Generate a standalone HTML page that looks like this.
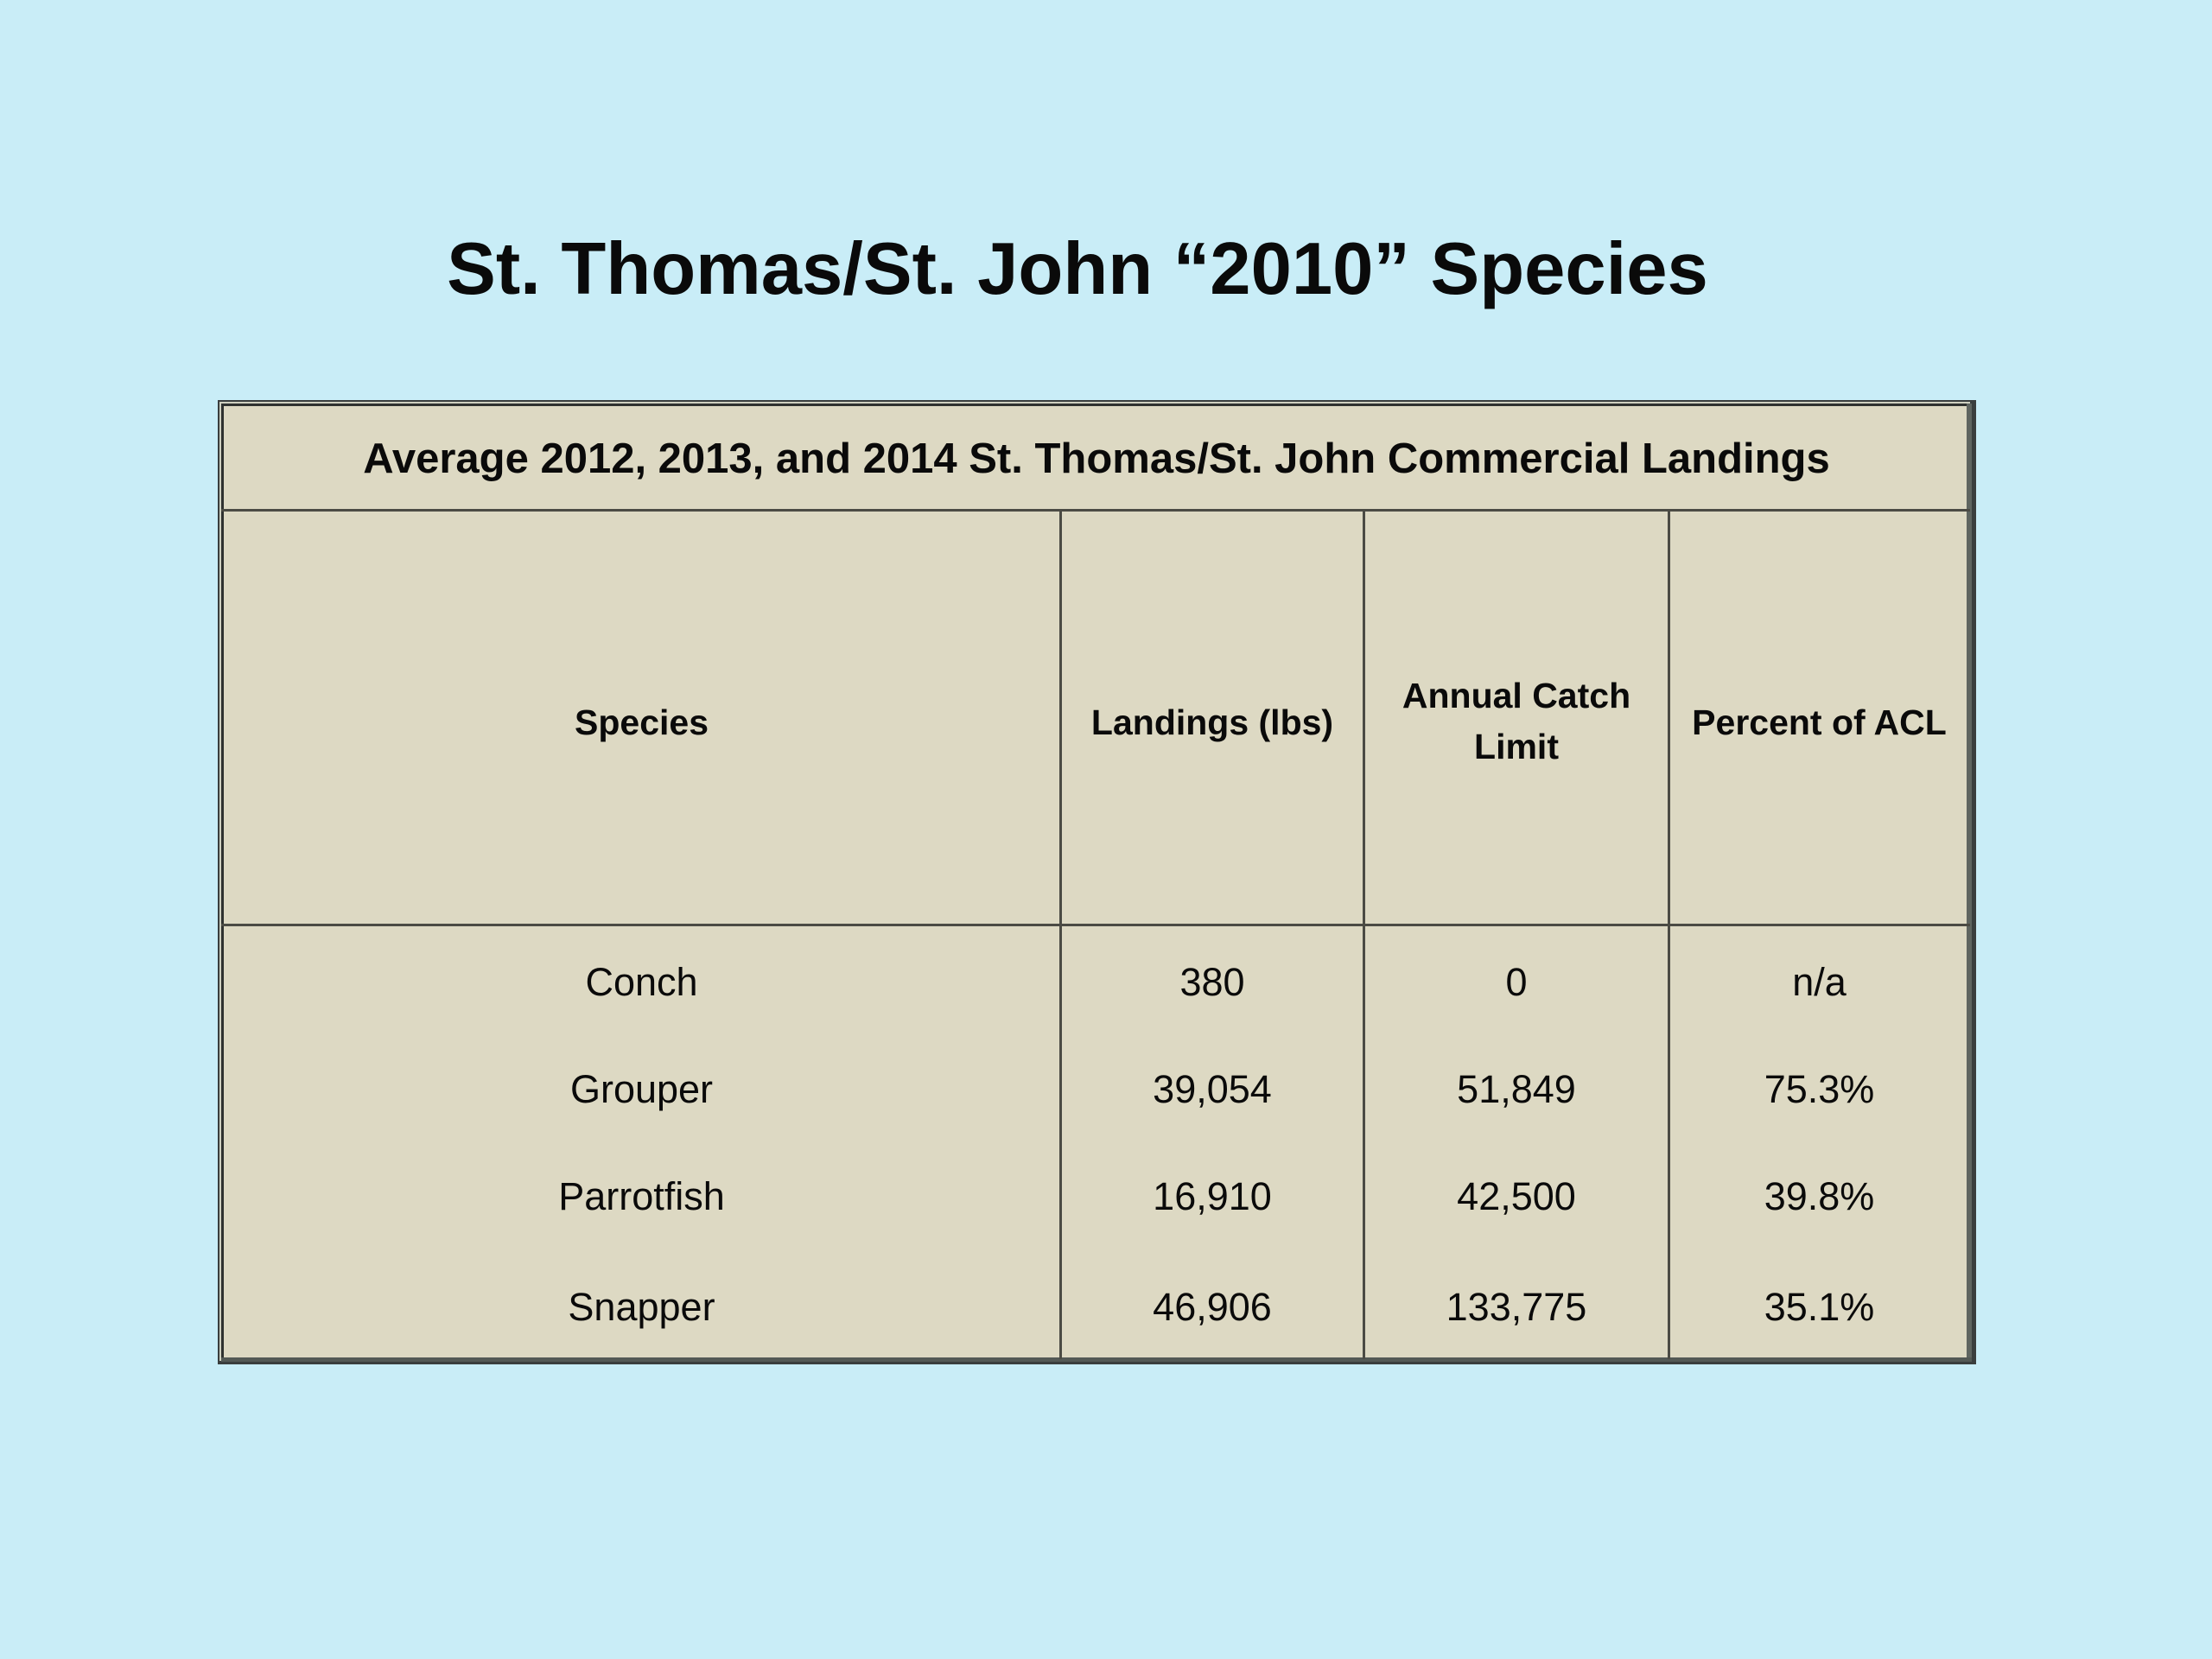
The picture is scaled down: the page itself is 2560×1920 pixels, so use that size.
<!DOCTYPE html>
<html><head><meta charset="utf-8">
<style>
html,body{margin:0;padding:0;}
body{width:2560px;height:1920px;background:#c9edf7;position:relative;overflow:hidden;font-family:"Liberation Sans",Arial,sans-serif;color:#0a0a0a;}
.t{position:absolute;white-space:nowrap;line-height:1;text-align:center;}
.ln{position:absolute;background:#4b4b44;}
</style></head><body>
<div class="t" style="left:0;width:2494px;top:269px;font-size:85px;font-weight:bold;">St. Thomas/St. John “2010” Species</div>

<div style="position:absolute;left:252px;top:463px;width:2035px;height:1116px;background:#3a3e3e;"></div>
<div style="position:absolute;left:254px;top:465px;width:2026px;height:1110px;background:#cfd0c0;"></div>
<div style="position:absolute;left:256px;top:467px;width:2022px;height:1105px;background:#2f3230;"></div>
<div style="position:absolute;left:259px;top:470px;width:2017px;height:1101px;background:#ddd9c3;"></div>
<div style="position:absolute;left:2276px;top:467px;width:6px;height:1108px;background:#5f6560;"></div>
<div style="position:absolute;left:256px;top:1571px;width:2026px;height:5px;background:#535955;"></div>

<div class="ln" style="left:256px;top:589px;width:2024px;height:3px;"></div>
<div class="ln" style="left:256px;top:1069px;width:2024px;height:3px;"></div>
<div class="ln" style="left:1226px;top:591px;width:3px;height:982px;"></div>
<div class="ln" style="left:1577px;top:591px;width:3px;height:982px;"></div>
<div class="ln" style="left:1930px;top:591px;width:3px;height:982px;"></div>

<div class="t" style="left:259px;width:2020px;top:507px;font-size:49px;font-weight:bold;">Average 2012, 2013, and 2014 St. Thomas/St. John Commercial Landings</div>

<div class="t" style="left:259px;width:967px;top:816px;font-size:41px;font-weight:bold;">Species</div>
<div class="t" style="left:1229px;width:348px;top:816px;font-size:41px;font-weight:bold;">Landings (lbs)</div>
<div class="t" style="left:1580px;width:350px;top:785px;font-size:41px;font-weight:bold;">Annual Catch</div>
<div class="t" style="left:1580px;width:350px;top:844px;font-size:41px;font-weight:bold;">Limit</div>
<div class="t" style="left:1933px;width:345px;top:816px;font-size:41px;font-weight:bold;">Percent of ACL</div>

<div class="t" style="left:259px;width:967px;top:1114px;font-size:45px;">Conch</div>
<div class="t" style="left:1229px;width:348px;top:1114px;font-size:45px;">380</div>
<div class="t" style="left:1580px;width:350px;top:1114px;font-size:45px;">0</div>
<div class="t" style="left:1933px;width:345px;top:1114px;font-size:45px;">n/a</div>

<div class="t" style="left:259px;width:967px;top:1238px;font-size:45px;">Grouper</div>
<div class="t" style="left:1229px;width:348px;top:1238px;font-size:45px;">39,054</div>
<div class="t" style="left:1580px;width:350px;top:1238px;font-size:45px;">51,849</div>
<div class="t" style="left:1933px;width:345px;top:1238px;font-size:45px;">75.3%</div>

<div class="t" style="left:259px;width:967px;top:1362px;font-size:45px;">Parrotfish</div>
<div class="t" style="left:1229px;width:348px;top:1362px;font-size:45px;">16,910</div>
<div class="t" style="left:1580px;width:350px;top:1362px;font-size:45px;">42,500</div>
<div class="t" style="left:1933px;width:345px;top:1362px;font-size:45px;">39.8%</div>

<div class="t" style="left:259px;width:967px;top:1490px;font-size:45px;">Snapper</div>
<div class="t" style="left:1229px;width:348px;top:1490px;font-size:45px;">46,906</div>
<div class="t" style="left:1580px;width:350px;top:1490px;font-size:45px;">133,775</div>
<div class="t" style="left:1933px;width:345px;top:1490px;font-size:45px;">35.1%</div>
</body></html>
